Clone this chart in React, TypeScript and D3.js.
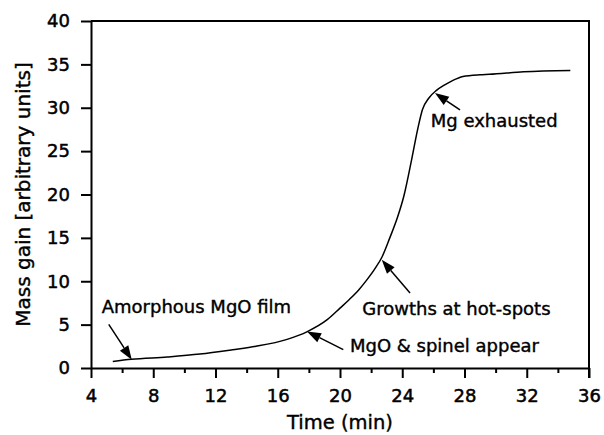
import React, { useEffect, useRef } from "react";
import * as d3 from "d3";

// time (min) and mass gain
const timeMin = [5.4, 6.6, 8.9, 11, 13.1, 14.6, 16.6, 17.9, 19.2, 20, 20.6, 21.2, 21.7, 22.3, 22.7, 23.2, 23.7, 24.1, 24.6, 25, 25.3, 25.7, 26.2, 26.7, 27.2, 27.9, 29, 29.6, 31.8, 34.8];
const massGain = [0.76, 1.0, 1.27, 1.6, 2.1, 2.5, 3.3, 4.2, 5.6, 6.9, 7.9, 9.0, 10.1, 11.6, 12.8, 15.0, 17.4, 19.8, 24.0, 27.6, 29.8, 31.1, 32.0, 32.6, 33.1, 33.6, 33.8, 33.85, 34.15, 34.3];

const xTicks = [4, 8, 12, 16, 20, 24, 28, 32, 36];
const xMinorTicks = [6, 10, 14, 18, 22, 26, 30, 34];
const yTicks = [0, 5, 10, 15, 20, 25, 30, 35, 40];

// annotations: label, text anchor (data), arrow tail and tip (data)
const notes = [
  { label: "Amorphous MgO film", tx: 4.69, ty: 6.37, x0: 5.14, y0: 5.02, x1: 6.62, y1: 0.96 },
  { label: "Growths at hot-spots", tx: 21.43, ty: 6.14, x0: 24.5, y0: 8.64, x1: 22.68, y1: 12.47 },
  { label: "MgO & spinel appear", tx: 20.64, ty: 1.88, x0: 20.21, y0: 2.11, x1: 17.88, y1: 4.22 },
  { label: "Mg exhausted", tx: 25.83, ty: 27.83, x0: 27.71, y0: 29.75, x1: 26.1, y1: 31.71 },
];

const W = 604;
const H = 435;
const FONT = "'DejaVu Sans', Verdana, sans-serif";

const App = () => {
  const ref = useRef<SVGSVGElement>(null);

  useEffect(() => {
    const svg = d3.select(ref.current);
    svg.selectAll("*").remove();

    const margin = { top: 21, right: 15, bottom: 67, left: 91 };
    const x = d3.scaleLinear().domain([4, 36]).range([margin.left, W - margin.right]);
    const y = d3.scaleLinear().domain([0, 40]).range([H - margin.bottom, margin.top]);

    // x axis
    svg
      .append("g")
      .attr("transform", `translate(0,${y(0)})`)
      .call(d3.axisBottom(x).tickValues(xTicks).tickSize(10).tickSizeOuter(0).tickPadding(11).tickFormat(d3.format("d")));

    svg
      .append("g")
      .attr("transform", `translate(0,${y(0)})`)
      .call(d3.axisBottom(x).tickValues(xMinorTicks).tickSize(5).tickSizeOuter(0).tickFormat(() => ""))
      .select(".domain")
      .remove();

    // y axis
    svg
      .append("g")
      .attr("transform", `translate(${x(4)},0)`)
      .call(d3.axisLeft(y).tickValues(yTicks).tickSize(10).tickSizeOuter(0).tickPadding(11));

    svg.selectAll(".domain, .tick line").attr("stroke", "#000").attr("stroke-width", 2);
    svg
      .selectAll(".tick text")
      .attr("font-family", FONT)
      .attr("font-size", 18)
      .attr("fill", "#000")
      .attr("stroke", "#000")
      .attr("stroke-width", 0.5);

    // frame top and right
    svg
      .append("path")
      .attr("d", `M${x(4)},${y(40)}H${x(36)}V${y(0) + 10}`)
      .attr("fill", "none")
      .attr("stroke", "#000")
      .attr("stroke-width", 2);

    // curve
    const line = d3
      .line<number>()
      .x((d, i) => x(timeMin[i]))
      .y((d) => y(d))
      .curve(d3.curveMonotoneX);

    svg
      .append("path")
      .datum(massGain)
      .attr("d", line)
      .attr("fill", "none")
      .attr("stroke", "#000")
      .attr("stroke-width", 1.5);

    // annotations
    notes.forEach((n) => {
      const ax = x(n.x0), ay = y(n.y0);
      const bx = x(n.x1), by = y(n.y1);
      const len = Math.hypot(bx - ax, by - ay);
      const ux = (bx - ax) / len, uy = (by - ay) / len;
      const hl = 14, hw = 5;
      const cx = bx - ux * hl, cy = by - uy * hl;
      svg
        .append("line")
        .attr("x1", ax).attr("y1", ay)
        .attr("x2", cx).attr("y2", cy)
        .attr("stroke", "#000")
        .attr("stroke-width", 1.5);
      svg
        .append("polygon")
        .attr("points", `${bx},${by} ${cx - uy * hw},${cy + ux * hw} ${cx + uy * hw},${cy - ux * hw}`)
        .attr("fill", "#000");
      svg
        .append("text")
        .attr("x", x(n.tx))
        .attr("y", y(n.ty))
        .attr("font-family", FONT)
        .attr("font-size", 18)
        .attr("stroke", "#000")
        .attr("stroke-width", 0.4)
        .text(n.label);
    });

    // axis titles
    svg
      .append("text")
      .attr("x", (x(4) + x(36)) / 2)
      .attr("y", 429)
      .attr("text-anchor", "middle")
      .attr("font-family", FONT)
      .attr("font-size", 19.5)
      .attr("stroke", "#000")
      .attr("stroke-width", 0.4)
      .text("Time (min)");

    svg
      .append("text")
      .attr("transform", `translate(30,${(y(0) + y(40)) / 2}) rotate(-90)`)
      .attr("text-anchor", "middle")
      .attr("font-family", FONT)
      .attr("font-size", 20)
      .attr("stroke", "#000")
      .attr("stroke-width", 0.4)
      .text("Mass gain [arbitrary units]");
  }, []);

  return (
    <svg
      ref={ref}
      width={W}
      height={H}
      style={{ position: "absolute", left: 0, top: 0, background: "#fff" }}
    />
  );
};

export default App;
